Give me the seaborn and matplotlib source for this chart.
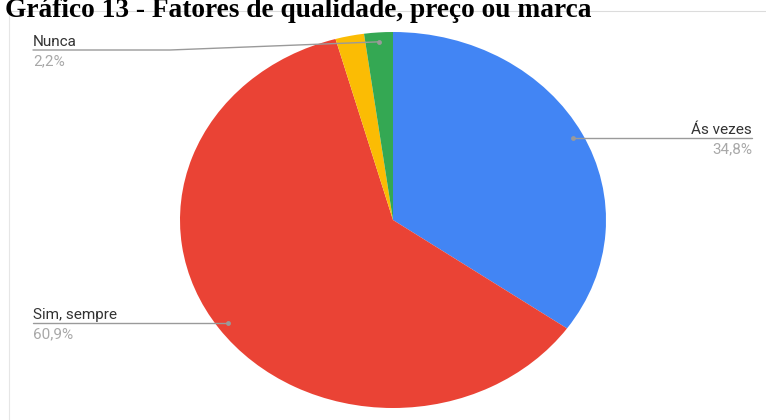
import numpy as np
import matplotlib
matplotlib.use("Agg")
import matplotlib.pyplot as plt
import seaborn as sns

# Respostas (número de pessoas) por categoria, na ordem em que as fatias são desenhadas
categorias = ["Ás vezes", "Sim, sempre", "Raramente", "Nunca"]
respostas = [16, 28, 1, 1]
cores = ["#4285F4", "#EA4335", "#FBBC04", "#34A853"]
rotulados = ["Ás vezes", "Sim, sempre", "Nunca"]
titulo = "Gráfico 13 - Fatores de qualidade, preço ou marca"

sns.set_theme(style="white")
plt.rcParams["font.family"] = ["Roboto", "DejaVu Sans"]

W, H = 766, 420
fig = plt.figure(figsize=(W / 100, H / 100), dpi=100)
fig.patch.set_facecolor("white")

# Pizza elíptica: centro (393, 220), raios 213 x 188 px
cx, cy, rx, ry = 393, 220, 213, 188
ax = fig.add_axes([(cx - rx) / W, (H - cy - ry) / H, 2 * rx / W, 2 * ry / H])
wedges, _ = ax.pie(respostas, colors=cores, startangle=90, counterclock=False,
                   wedgeprops=dict(linewidth=0))
ax.set_aspect("auto")
ax.set_xlim(-1, 1)
ax.set_ylim(-1, 1)
ax.axis("off")

# Camada em coordenadas de pixel para rótulos, linhas guia e moldura
ov = fig.add_axes([0, 0, 1, 1], zorder=5)
ov.set_xlim(0, W)
ov.set_ylim(H, 0)
ov.axis("off")
ov.patch.set_alpha(0)

# moldura clara
ov.plot([9, W], [11, 11], color="#dcdcdc", lw=0.8)
ov.plot([9, 9], [11, H], color="#e6e6e6", lw=0.8)

ov.text(5, 17, titulo, family=["Liberation Serif", "DejaVu Serif"], fontweight="bold",
        fontsize=19.7, color="black", ha="left", va="baseline")

total = sum(respostas)


def ponto_fatia(w):
    ang = np.deg2rad((w.theta1 + w.theta2) / 2)
    x, y = 0.95 * np.cos(ang), 0.95 * np.sin(ang)
    dx, dy = ax.transData.transform((x, y))
    return dx, H - dy


cor_linha = "#9a9a9a"
cor_pct = "#a8a8a8"
cor_nome = "#333333"
fs = 11

for nome, valor, w in zip(categorias, respostas, wedges):
    if nome not in rotulados:
        continue
    px, py = ponto_fatia(w)
    pct = f"{100 * valor / total:.1f}%".replace(".", ",")
    if nome == "Ás vezes":
        xe = 752
        ov.plot([px, xe], [py, py], color=cor_linha, lw=1)
        ov.text(xe, py - 4, nome, ha="right", va="baseline", fontsize=fs, color=cor_nome)
        ov.text(xe, py + 15, pct, ha="right", va="baseline", fontsize=fs, color=cor_pct)
    elif nome == "Sim, sempre":
        xs = 33
        ov.plot([xs, px], [py, py], color=cor_linha, lw=1)
        ov.text(xs, py - 4, nome, ha="left", va="baseline", fontsize=fs, color=cor_nome)
        ov.text(xs, py + 15, pct, ha="left", va="baseline", fontsize=fs, color=cor_pct)
    else:
        xs, ly = 33, 50
        ov.plot([xs, 170, px], [ly, ly, py], color=cor_linha, lw=1)
        ov.text(xs, ly - 4, nome, ha="left", va="baseline", fontsize=fs, color=cor_nome)
        ov.text(xs, ly + 15, pct, ha="left", va="baseline", fontsize=fs, color=cor_pct)
    ov.plot([px], [py], "o", ms=3.5, color=cor_linha, mec="none")

fig.savefig("out.png", dpi=100, facecolor="white")
